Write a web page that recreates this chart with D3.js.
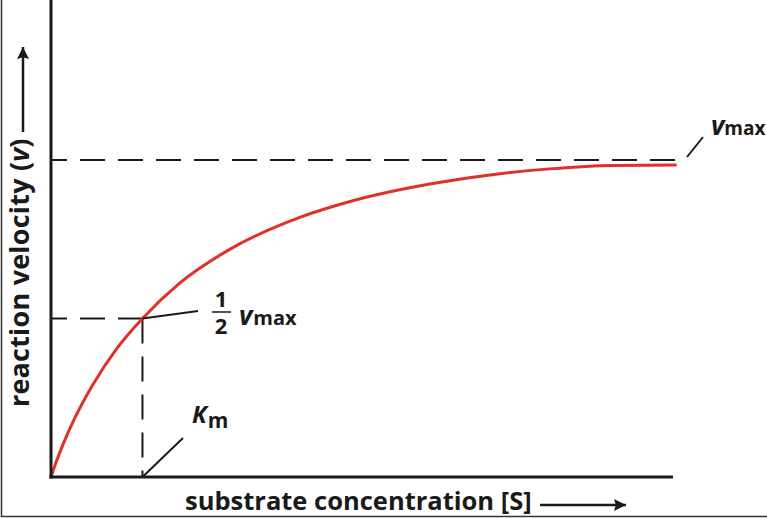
<!DOCTYPE html>
<html>
<head>
<meta charset="utf-8">
<script src="https://cdn.jsdelivr.net/npm/d3@7"></script>
<style>
  body { margin: 0; background: #fff; }
  svg text { font-family: "Open Sans", "Noto Sans", sans-serif; font-weight: 700; fill: #1a1a1a; }
</style>
</head>
<body>
<div id="chart"></div>
<script>
// substrate concentration (arbitrary units, Km = 10) and velocity (fraction of vmax)
const substrate = [0, 0.33, 0.77, 1.42, 2.62, 4.59, 7.27, 10, 14, 19.35, 27.2, 32.7, 41.4, 48, 54.5, 61.3, 68.4]
const velocity  = [0, 0.028, 0.063, 0.110, 0.187, 0.292, 0.408, 0.5, 0.610, 0.715, 0.819, 0.869, 0.924, 0.953, 0.972, 0.983, 0.984]

const vmax = 1
const km = 10
const xMax = 68
const yTop = 1.505

const xLabel = "substrate concentration [S]"
const yLabel = ["reaction velocity (", "v", ")"]

const width = 767, height = 518

const svg = d3.select("#chart").append("svg")
    .attr("width", width)
    .attr("height", height)

const xScale = d3.scaleLinear()
    .domain([0, xMax])
    .range([51, 673])

const yScale = d3.scaleLinear()
    .domain([0, vmax])
    .range([477, 160])

svg.append("defs").append("marker")
    .attr("id", "arrow")
    .attr("viewBox", "0 0 10 10")
    .attr("refX", 10)
    .attr("refY", 5)
    .attr("markerUnits", "userSpaceOnUse")
    .attr("markerWidth", 19)
    .attr("markerHeight", 12)
    .attr("orient", "auto")
  .append("path")
    .attr("d", "M0,0L10,5L0,10L1.5,5Z")
    .attr("fill", "#1a1a1a")

// frame on left and bottom edge
svg.append("path")
    .attr("d", "M1.5,0V516.5H" + width)
    .attr("fill", "none")
    .attr("stroke", "#333")
    .attr("stroke-width", 1.5)

// dashed guide lines
const dash = "25,13"
svg.append("line")
    .attr("x1", xScale(0)).attr("x2", xScale(68.5))
    .attr("y1", yScale(vmax)).attr("y2", yScale(vmax))
    .attr("stroke", "#1a1a1a").attr("stroke-width", 2)
    .attr("stroke-dasharray", dash).attr("stroke-dashoffset", 9)

svg.append("line")
    .attr("x1", xScale(0)).attr("x2", xScale(km))
    .attr("y1", yScale(vmax / 2)).attr("y2", yScale(vmax / 2))
    .attr("stroke", "#1a1a1a").attr("stroke-width", 2)
    .attr("stroke-dasharray", dash).attr("stroke-dashoffset", 9)

svg.append("line")
    .attr("x1", xScale(km)).attr("x2", xScale(km))
    .attr("y1", yScale(vmax / 2)).attr("y2", yScale(0))
    .attr("stroke", "#1a1a1a").attr("stroke-width", 2)
    .attr("stroke-dasharray", dash)

// curve
const points = substrate.map((s, i) => ({s: s, v: velocity[i]}))

const line = d3.line()
    .x(d => xScale(d.s))
    .y(d => yScale(d.v))
    .curve(d3.curveMonotoneX)

svg.append("path")
    .datum(points)
    .attr("fill", "none")
    .attr("stroke", "#e0302a")
    .attr("stroke-width", 3)
    .attr("d", line)

// axes
svg.append("line")
    .attr("x1", xScale(0)).attr("x2", xScale(0))
    .attr("y1", yScale(0) + 1.5).attr("y2", yScale(yTop))
    .attr("stroke", "#1a1a1a").attr("stroke-width", 3)

svg.append("line")
    .attr("x1", xScale(0) - 1.5).attr("x2", xScale(xMax))
    .attr("y1", yScale(0)).attr("y2", yScale(0))
    .attr("stroke", "#1a1a1a").attr("stroke-width", 3)

// leader lines
function leader(x1, y1, x2, y2){
    svg.append("line")
        .attr("x1", x1).attr("y1", y1)
        .attr("x2", x2).attr("y2", y2)
        .attr("stroke", "#1a1a1a").attr("stroke-width", 2)
}
leader(xScale(km), yScale(0), 183, 438)
leader(xScale(km), yScale(vmax / 2), 198, 311)
leader(687, 157, 703, 137)

// vmax label
const vmaxText = svg.append("text").attr("x", 711).attr("y", 135)
vmaxText.append("tspan").text("v").attr("font-style", "italic").attr("font-size", 26)
vmaxText.append("tspan").text("max").attr("font-size", 19)

// 1/2 vmax label
const frac = svg.append("text").attr("text-anchor", "middle").attr("font-size", 22)
frac.append("tspan").text("1").attr("x", 221).attr("y", 307)
frac.append("tspan").text("2").attr("x", 221).attr("y", 334)
svg.append("line")
    .attr("x1", 212).attr("x2", 231).attr("y1", 312).attr("y2", 312)
    .attr("stroke", "#1a1a1a").attr("stroke-width", 1.5)
const halfText = svg.append("text").attr("x", 239).attr("y", 325)
halfText.append("tspan").text("v").attr("font-style", "italic").attr("font-size", 26)
halfText.append("tspan").text("max").attr("font-size", 20).attr("dx", 1)

// Km label
const kmText = svg.append("text").attr("x", 192).attr("y", 423)
kmText.append("tspan").text("K").attr("font-style", "italic").attr("font-size", 24)
kmText.append("tspan").text("m").attr("font-size", 21).attr("dy", 5).attr("dx", 1)

// x label and arrow
svg.append("text")
    .attr("x", 185)
    .attr("y", 510)
    .attr("font-size", 25.5)
    .text(xLabel)

svg.append("line")
    .attr("x1", 540).attr("x2", 626)
    .attr("y1", 505).attr("y2", 505)
    .attr("stroke", "#1a1a1a").attr("stroke-width", 2.5)
    .attr("marker-end", "url(#arrow)")

// y label and arrow
const yText = svg.append("text")
    .attr("transform", "translate(29, 407) rotate(-90)")
    .attr("font-size", 27)
    .attr("letter-spacing", 0.2)
yText.append("tspan").text(yLabel[0])
yText.append("tspan").text(yLabel[1]).attr("font-style", "italic")
yText.append("tspan").text(yLabel[2])

svg.append("line")
    .attr("x1", 23).attr("x2", 23)
    .attr("y1", 132).attr("y2", 47)
    .attr("stroke", "#1a1a1a").attr("stroke-width", 2.5)
    .attr("marker-end", "url(#arrow)")
</script>
</body>
</html>
